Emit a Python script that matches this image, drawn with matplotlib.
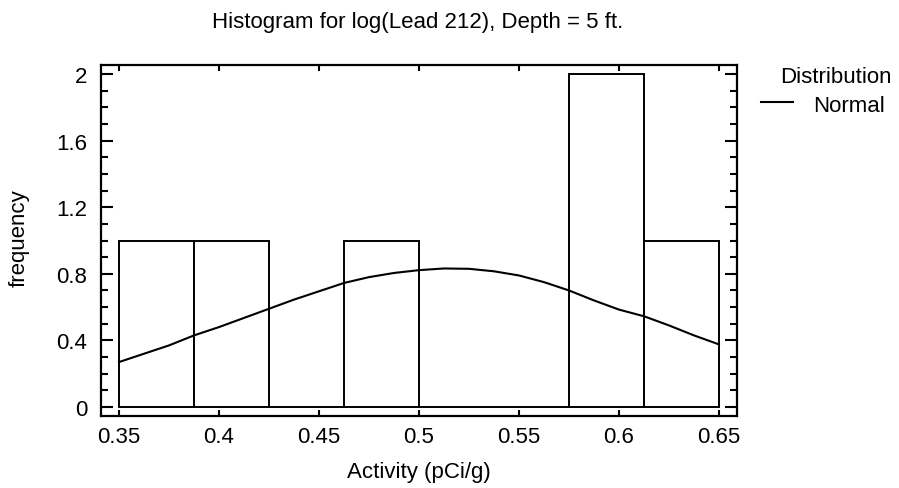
import matplotlib
matplotlib.use("Agg")
import matplotlib.pyplot as plt
from matplotlib.lines import Line2D
from matplotlib.ticker import MultipleLocator, FixedLocator

plt.rcParams['font.family'] = ['Liberation Sans', 'DejaVu Sans']

# Histogram data
bin_edges = [0.35, 0.3875, 0.425, 0.4625, 0.5, 0.5375, 0.575, 0.6125, 0.65]
counts = [1, 1, 0, 1, 0, 0, 2, 1]

# Fitted normal curve
curve_x = [0.35, 0.3625, 0.375, 0.3875, 0.4, 0.4125, 0.425, 0.4375, 0.45, 0.4625,
           0.475, 0.4875, 0.5, 0.5125, 0.525, 0.5375, 0.55, 0.5625, 0.575, 0.5875,
           0.6, 0.6125, 0.625, 0.6375, 0.65]
curve_y = [0.27, 0.32, 0.37, 0.43, 0.48, 0.535, 0.59, 0.645, 0.695, 0.745,
           0.78, 0.805, 0.822, 0.832, 0.830, 0.815, 0.79, 0.75, 0.70, 0.64,
           0.585, 0.545, 0.49, 0.43, 0.376]

x_ticks = [0.35, 0.4, 0.45, 0.5, 0.55, 0.6, 0.65]
x_tick_labels = ["0.35", "0.4", "0.45", "0.5", "0.55", "0.6", "0.65"]
y_ticks = [0, 0.4, 0.8, 1.2, 1.6, 2.0]
y_tick_labels = ["0", "0.4", "0.8", "1.2", "1.6", "2"]

FS = 16
W, H = 899, 489

fig = plt.figure(figsize=(W/100, H/100), dpi=100)
ax = fig.add_axes([101/W, 1-417/H, (737-101)/W, (417-66)/H])

lefts = bin_edges[:-1]
widths = [bin_edges[i+1] - bin_edges[i] for i in range(len(counts))]
ax.bar(lefts, counts, width=widths, align='edge', facecolor='white',
       edgecolor='black', linewidth=1.4, zorder=2)

ax.plot(curve_x, curve_y, color='black', linewidth=1.5, zorder=3)

ax.set_xlim(0.341, 0.659)
ax.set_ylim(-0.054, 2.054)

ax.xaxis.set_major_locator(FixedLocator(x_ticks))
ax.set_xticklabels(x_tick_labels)
ax.yaxis.set_major_locator(FixedLocator(y_ticks))
ax.set_yticklabels(y_tick_labels)
ax.yaxis.set_minor_locator(MultipleLocator(0.1))

ax.tick_params(axis='both', which='both', direction='in', top=True, right=True,
               width=1.5, labelsize=FS)
ax.tick_params(axis='x', which='major', length=4.5, pad=7)
ax.tick_params(axis='y', which='major', length=8.5, pad=10)
ax.tick_params(axis='y', which='minor', length=5)
for s in ax.spines.values():
    s.set_linewidth(1.6)

ax.set_xlabel("Activity (pCi/g)", fontsize=FS)
ax.xaxis.set_label_coords(0.5, (417-462)/351)
ax.set_ylabel("frequency", fontsize=FS, va='center')
ax.yaxis.set_label_coords((19-101)/636, 0.51)

fig.text(418/W, 1-28/H, "Histogram for log(Lead 212), Depth = 5 ft.",
         ha='center', va='baseline', fontsize=FS)

# Legend
fig.text(780/W, 1-83/H, "Distribution", ha='left', va='baseline', fontsize=FS)
fig.add_artist(Line2D([761/W, 793/W], [1-103/H, 1-103/H], color='black',
                      linewidth=1.5, transform=fig.transFigure))
fig.text(813/W, 1-112/H, "Normal", ha='left', va='baseline', fontsize=FS)

fig.savefig("out.png", dpi=100)
